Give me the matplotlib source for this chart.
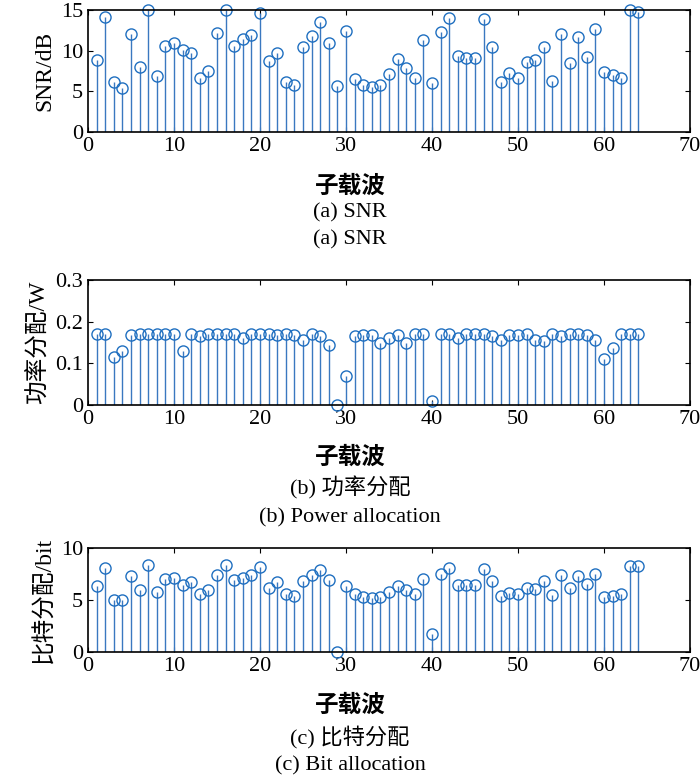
import matplotlib
matplotlib.use('Agg')
import matplotlib.pyplot as plt
import numpy as np

plt.rcParams['font.family'] = ['Liberation Serif', 'Noto Sans CJK SC']
plt.rcParams['font.size'] = 15

# 子载波编号
sub = np.arange(1, 65)

snr = [8.8, 14.1, 6.2, 5.4, 12.0, 8.0, 15.0, 6.9, 10.6, 10.9, 10.1, 9.7, 6.6, 7.5, 12.2, 15.0,
       10.6, 11.4, 11.9, 14.6, 8.7, 9.7, 6.2, 5.8, 10.5, 11.8, 13.5, 11.0, 5.6, 12.4, 6.5, 5.8,
       5.5, 5.8, 7.1, 9.0, 7.9, 6.6, 11.3, 6.0, 12.3, 14.0, 9.4, 9.1, 9.1, 13.9, 10.4, 6.2,
       7.2, 6.7, 8.6, 8.8, 10.5, 6.3, 12.1, 8.5, 11.7, 9.2, 12.7, 7.4, 7.0, 6.6, 15.0, 14.8]

power = [0.17, 0.17, 0.115, 0.13, 0.168, 0.17, 0.17, 0.17, 0.17, 0.17, 0.13, 0.17, 0.165, 0.17, 0.17, 0.17,
         0.17, 0.16, 0.17, 0.17, 0.17, 0.168, 0.17, 0.168, 0.155, 0.17, 0.165, 0.145, 0.0, 0.07, 0.165, 0.168,
         0.168, 0.15, 0.16, 0.168, 0.15, 0.17, 0.17, 0.01, 0.17, 0.17, 0.162, 0.17, 0.17, 0.17, 0.165, 0.155,
         0.168, 0.168, 0.17, 0.155, 0.153, 0.17, 0.165, 0.17, 0.17, 0.168, 0.157, 0.11, 0.138, 0.17, 0.17, 0.17]

bits = [6.3, 8.1, 5.0, 5.0, 7.3, 6.0, 8.4, 5.8, 7.0, 7.1, 6.4, 6.7, 5.6, 6.0, 7.4, 8.4,
        6.9, 7.1, 7.4, 8.2, 6.2, 6.7, 5.6, 5.4, 6.8, 7.4, 7.9, 6.9, 0.0, 6.3, 5.6, 5.3,
        5.2, 5.3, 5.8, 6.3, 6.0, 5.6, 7.0, 1.7, 7.5, 8.1, 6.4, 6.4, 6.4, 8.0, 6.8, 5.4,
        5.7, 5.6, 6.2, 6.1, 6.8, 5.5, 7.4, 6.2, 7.3, 6.5, 7.5, 5.3, 5.4, 5.6, 8.3, 8.3]

W, H = 700, 782
fig = plt.figure(figsize=(W / 100, H / 100), dpi=100)

def make_ax(top, bottom, y, ylabel, ylim, yticks, ytl, captions, label_y):
    ax = fig.add_axes([88 / W, 1 - bottom / H, 602 / W, (bottom - top) / H])
    ml, sl, bl = ax.stem(sub, y, linefmt='-', markerfmt='o', basefmt=' ')
    plt.setp(sl, color='#3a78c0', linewidth=1)
    plt.setp(ml, markerfacecolor='none', markeredgecolor='#1f6fc0', markersize=8, clip_on=False)
    ax.set_xlim(0, 70)
    ax.set_ylim(*ylim)
    ax.set_yticks(yticks)
    ax.set_yticklabels(ytl)
    ax.set_xticks(range(0, 71, 10))
    ax.tick_params(direction='in', top=True, right=True, labelsize=16)
    ax.set_ylabel(ylabel, fontsize=17)
    for s in ax.spines.values():
        s.set_linewidth(1.2)
    fig.text(0.5, 1 - label_y[0] / H, '子载波', ha='center', va='center', fontsize=17, fontweight='bold')
    fig.text(0.5, 1 - label_y[1] / H, captions[0], ha='center', va='center', fontsize=16)
    fig.text(0.5, 1 - label_y[2] / H, captions[1], ha='center', va='center', fontsize=16)
    return ax

make_ax(10, 132, snr, 'SNR/dB', (0, 15), [0, 5, 10, 15], ['0', '5', '10', '15'],
        ['(a) SNR', '(a) SNR'], (187, 213, 240))
make_ax(280, 405, power, '功率分配/W', (0, 0.3), [0, 0.1, 0.2, 0.3], ['0', '0.1', '0.2', '0.3'],
        ['(b) 功率分配', '(b) Power allocation'], (458, 488, 518))
make_ax(548, 652, bits, '比特分配/bit', (0, 10), [0, 5, 10], ['0', '5', '10'],
        ['(c) 比特分配', '(c) Bit allocation'], (706, 737, 766))

fig.savefig('out.png', dpi=100)
